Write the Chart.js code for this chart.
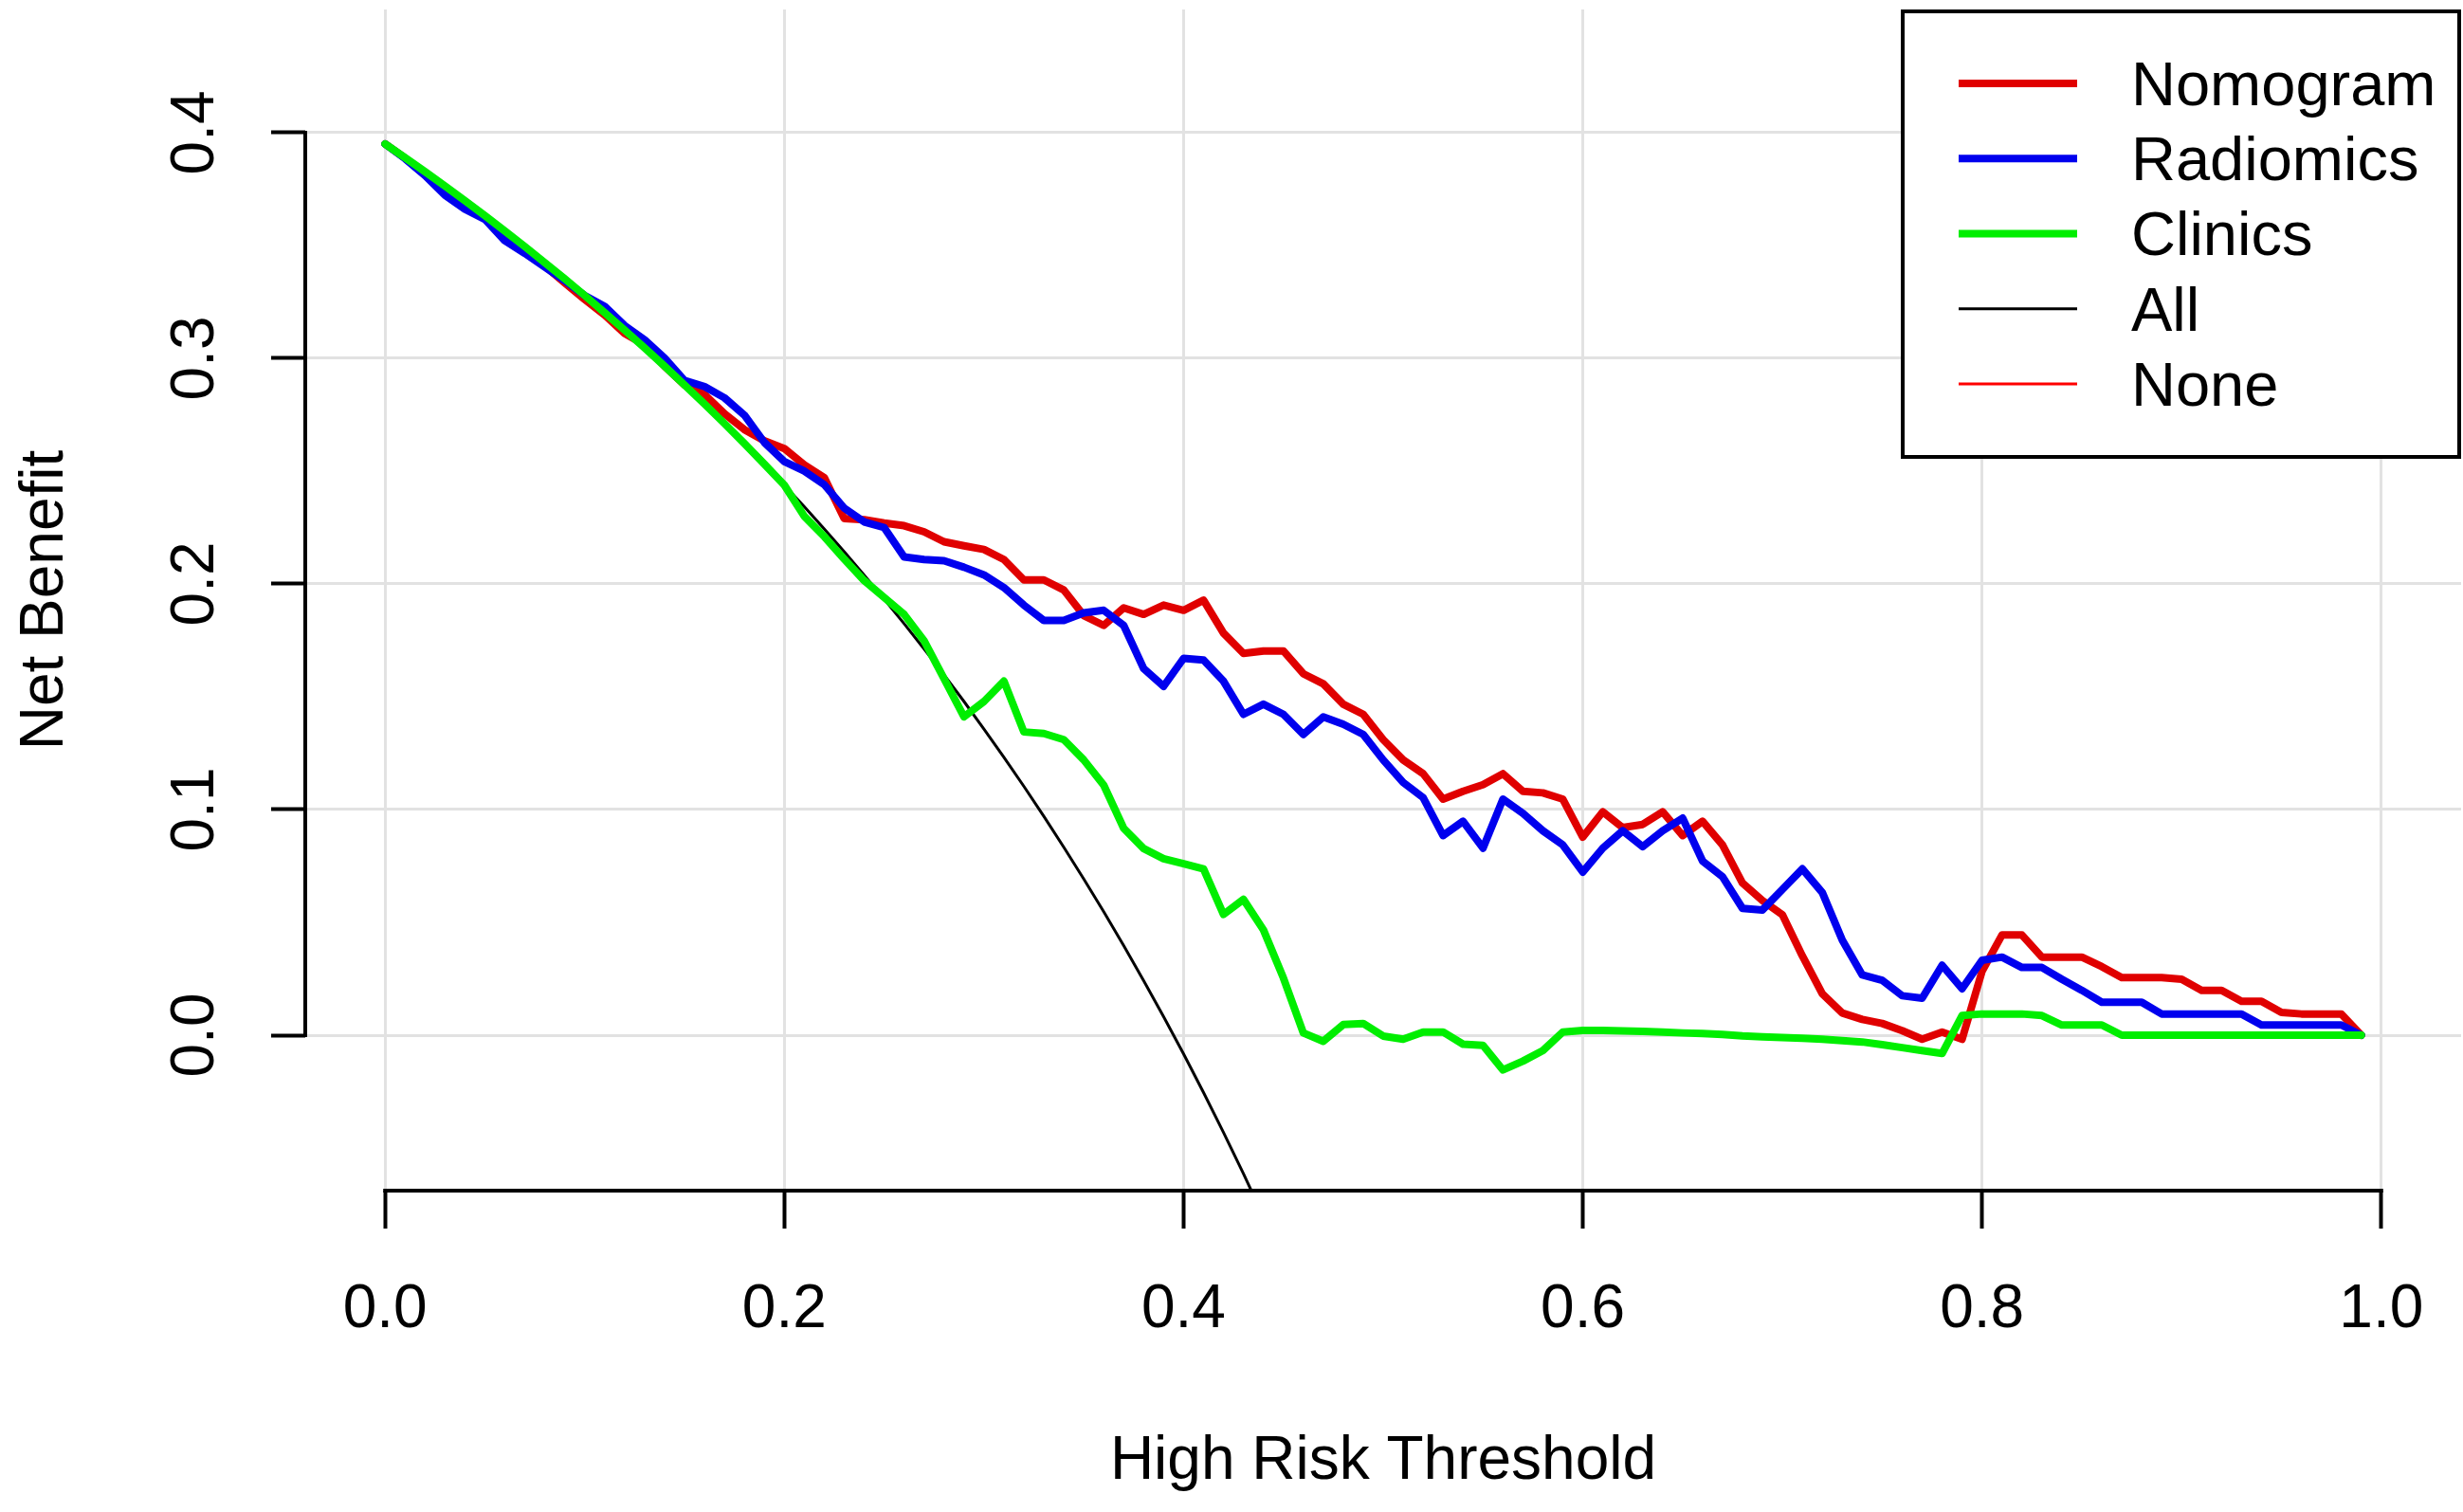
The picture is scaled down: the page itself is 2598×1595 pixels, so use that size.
<!DOCTYPE html>
<html>
<head>
<meta charset="utf-8">
<script src="https://cdn.jsdelivr.net/npm/chart.js@4.4.1/dist/chart.umd.min.js"></script>
<style>
html,body{margin:0;padding:0;background:#ffffff;}
canvas{display:block;}
</style>
</head>
<body>
<canvas id="c" width="2598" height="1595" style="width:2598px;height:1595px"></canvas>
<script>
// ---------------- DATA ----------------
const thresholds = [
0.00,0.01,0.02,0.03,0.04,0.05,0.06,0.07,0.08,0.09,
0.10,0.11,0.12,0.13,0.14,0.15,0.16,0.17,0.18,0.19,
0.20,0.21,0.22,0.23,0.24,0.25,0.26,0.27,0.28,0.29,
0.30,0.31,0.32,0.33,0.34,0.35,0.36,0.37,0.38,0.39,
0.40,0.41,0.42,0.43,0.44,0.45,0.46,0.47,0.48,0.49,
0.50,0.51,0.52,0.53,0.54,0.55,0.56,0.57,0.58,0.59,
0.60,0.61,0.62,0.63,0.64,0.65,0.66,0.67,0.68,0.69,
0.70,0.71,0.72,0.73,0.74,0.75,0.76,0.77,0.78,0.79,
0.80,0.81,0.82,0.83,0.84,0.85,0.86,0.87,0.88,0.89,
0.90,0.91,0.92,0.93,0.94,0.95,0.96,0.97,0.98,0.99];

const nomogram = [
0.3950,0.3887,0.3815,0.3739,0.3675,0.3620,0.3542,0.3481,0.3410,0.3334,
0.3261,0.3192,0.3110,0.3060,0.2965,0.2882,0.2840,0.2755,0.2684,0.2634,
0.2600,0.2528,0.2471,0.2290,0.2285,0.2270,0.2258,0.2231,0.2187,0.2169,
0.2153,0.2108,0.2018,0.2018,0.1973,0.1860,0.1816,0.1894,0.1865,0.1906,
0.1883,0.1928,0.1782,0.1692,0.1703,0.1703,0.1602,0.1557,0.1467,0.1422,
0.1310,0.1220,0.1159,0.1046,0.1081,0.1110,0.1159,0.1081,0.1074,0.1046,
0.0878,0.0990,0.0920,0.0934,0.0990,0.0885,0.0948,0.0843,0.0674,0.0597,
0.0534,0.0351,0.0183,0.0098,0.0070,0.0052,0.0020,-0.0018,0.0014,-0.0018,
0.0283,0.0444,0.0444,0.0346,0.0346,0.0346,0.0304,0.0255,0.0255,0.0255,
0.0248,0.0199,0.0199,0.0150,0.0150,0.0101,0.0094,0.0094,0.0094,0.0000];

const radiomics = [
0.3950,0.3885,0.3810,0.3723,0.3661,0.3616,0.3521,0.3465,0.3404,0.3344,
0.3278,0.3230,0.3145,0.3082,0.3001,0.2902,0.2875,0.2825,0.2748,0.2627,
0.2542,0.2500,0.2440,0.2336,0.2275,0.2250,0.2120,0.2108,0.2103,0.2074,
0.2040,0.1984,0.1906,0.1838,0.1838,0.1872,0.1883,0.1816,0.1625,0.1546,
0.1670,0.1663,0.1569,0.1422,0.1467,0.1422,0.1333,0.1411,0.1378,0.1333,
0.1220,0.1120,0.1053,0.0885,0.0948,0.0829,0.1046,0.0983,0.0906,0.0843,
0.0723,0.0829,0.0906,0.0836,0.0906,0.0962,0.0772,0.0702,0.0562,0.0555,
0.0646,0.0737,0.0632,0.0421,0.0267,0.0243,0.0175,0.0164,0.0310,0.0206,
0.0332,0.0346,0.0300,0.0300,0.0248,0.0199,0.0146,0.0146,0.0146,0.0094,
0.0094,0.0094,0.0094,0.0094,0.0045,0.0045,0.0045,0.0045,0.0045,0.0000];

const clinics = [
0.3950,0.3889,0.3827,0.3763,0.3698,0.3632,0.3564,0.3495,0.3424,0.3352,
0.3278,0.3202,0.3125,0.3046,0.2965,0.2882,0.2798,0.2711,0.2622,0.2531,
0.2438,0.2300,0.2210,0.2110,0.2015,0.1940,0.1865,0.1748,0.1580,0.1411,
0.1479,0.1569,0.1344,0.1337,0.1310,0.1220,0.1108,0.0917,0.0827,0.0782,
0.0760,0.0737,0.0535,0.0602,0.0467,0.0254,0.0010,-0.0027,0.0047,0.0052,
-0.0004,-0.0018,0.0014,0.0014,-0.0040,-0.0045,-0.0154,-0.0115,-0.0068,0.0014,
0.0021,0.0021,0.0019,0.0017,0.0014,0.0010,0.0007,0.0003,-0.0003,-0.0007,
-0.0010,-0.0014,-0.0018,-0.0024,-0.0030,-0.0042,-0.0055,-0.0068,-0.0081,0.0087,
0.0094,0.0094,0.0094,0.0087,0.0045,0.0045,0.0045,0.0000,0.0000,0.0000,
0.0000,0.0000,0.0000,0.0000,0.0000,0.0000,0.0000,0.0000,0.0000,0.0000];

// treat-all curve, read where it is visible (0.00 - 0.44)
const treatAll = [
0.3950,0.3889,0.3827,0.3763,0.3698,0.3632,0.3564,0.3495,0.3424,0.3352,
0.3278,0.3202,0.3125,0.3046,0.2965,0.2882,0.2798,0.2711,0.2622,0.2531,
0.2438,0.2342,0.2244,0.2143,0.2039,0.1933,0.1824,0.1712,0.1597,0.1479,
0.1357,0.1232,0.1103,0.0970,0.0833,0.0692,0.0547,0.0397,0.0242,0.0082,
-0.0083,-0.0254,-0.0431,-0.0614,-0.0804];

const seriesNames = ['Nomogram','Radiomics','Clinics','All','None'];
const xTicks = [0.0,0.2,0.4,0.6,0.8,1.0];
const xTickLabels = ['0.0','0.2','0.4','0.6','0.8','1.0'];
const yTicks = [0.0,0.1,0.2,0.3,0.4];
const yTickLabels = ['0.0','0.1','0.2','0.3','0.4'];
const xTitle = 'High Risk Threshold';
const yTitle = 'Net Benefit';

// ---------------- STYLE ----------------
const FONT = "'Liberation Sans', Arial, Helvetica, sans-serif";
const styles = {
  Nomogram: {color:'#e00000', width:8},
  Radiomics:{color:'#0000ee', width:8},
  Clinics:  {color:'#00ee00', width:8},
  All:      {color:'#000000', width:3},
  None:     {color:'#ff0000', width:3}
};

function pts(vals){ return vals.map((v,i)=>({x:thresholds[i], y:v})); }

const datasets = [
  {label:seriesNames[0], data:pts(nomogram), order:2},
  {label:seriesNames[1], data:pts(radiomics), order:1},
  {label:seriesNames[2], data:pts(clinics), order:0},
  {label:seriesNames[3], data:pts(treatAll), order:3}
].map(d => Object.assign(d, {
  borderColor: styles[d.label].color,
  borderWidth: styles[d.label].width,
  pointRadius: 0,
  tension: 0,
  fill: false,
  borderJoinStyle: 'round',
  borderCapStyle: 'round'
}));

// R-style axis lines spanning first..last tick
const axisLines = {
  id:'axisLines',
  afterDatasetsDraw(chart){
    const {ctx, chartArea} = chart;
    const xs = chart.scales.x, ys = chart.scales.y;
    ctx.save();
    ctx.strokeStyle = '#000';
    ctx.lineWidth = 4;
    ctx.lineCap = 'square';
    ctx.beginPath();
    ctx.moveTo(xs.getPixelForValue(xTicks[0]), chartArea.bottom);
    ctx.lineTo(xs.getPixelForValue(xTicks[xTicks.length-1]), chartArea.bottom);
    ctx.moveTo(chartArea.left, ys.getPixelForValue(yTicks[0]));
    ctx.lineTo(chartArea.left, ys.getPixelForValue(yTicks[yTicks.length-1]));
    ctx.stroke();
    ctx.restore();
  }
};

// R-style boxed legend in the top-right corner of the plot region
const boxLegend = {
  id:'boxLegend',
  afterDraw(chart){
    const {ctx, chartArea} = chart;
    const w = 587, h = 470;
    const right = chartArea.right - 2, top = chartArea.top + 2;
    const left = right - w;
    ctx.save();
    ctx.fillStyle = '#fff';
    ctx.fillRect(left, top, w, h);
    ctx.lineWidth = 4;
    ctx.strokeStyle = '#000';
    ctx.strokeRect(left, top, w, h);
    ctx.font = '65px ' + FONT;
    ctx.textBaseline = 'middle';
    ctx.textAlign = 'left';
    seriesNames.forEach((name, i) => {
      const y = top + 76 + i * 79.25;
      const st = styles[name];
      ctx.strokeStyle = st.color;
      ctx.lineWidth = st.width;
      ctx.lineCap = 'butt';
      ctx.beginPath();
      ctx.moveTo(left + 59, y);
      ctx.lineTo(left + 184, y);
      ctx.stroke();
      ctx.fillStyle = '#000';
      ctx.fillText(name, left + 241, y + 5);
    });
    ctx.restore();
  }
};

new Chart(document.getElementById('c'), {
  type:'line',
  data:{ datasets },
  plugins:[axisLines, boxLegend],
  options:{
    responsive:false,
    animation:false,
    devicePixelRatio:1,
    layout:{ padding:{ top:10, right:2, left:0, bottom:0 } },
    plugins:{ legend:{display:false}, tooltip:{enabled:false} },
    scales:{
      x:{
        type:'linear', min:-0.04, max:1.04,
        afterBuildTicks: s => { s.ticks = xTicks.map(v => ({value:v})); },
        afterFit: s => { s.height = 339; s.paddingLeft = 0; s.paddingRight = 0; },
        border:{display:false},
        grid:{ color:'#e2e2e2', lineWidth:3, drawTicks:true, tickLength:40, tickColor:'#000', tickWidth:4 },
        ticks:{ autoSkip:false, minRotation:0, maxRotation:0, padding:48, color:'#000',
                font:{family:FONT, size:64}, callback:(v,i)=>xTickLabels[i] },
        title:{ display:true, text:xTitle, color:'#000', font:{family:FONT, size:64},
                padding:{top:0, bottom:14} }
      },
      y:{
        type:'linear', min:-0.0689, max:0.4546,
        afterBuildTicks: s => { s.ticks = yTicks.map(v => ({value:v})); },
        afterFit: s => { s.width = 322; s.paddingTop = 0; s.paddingBottom = 0; },
        border:{display:false},
        grid:{ color:'#e2e2e2', lineWidth:3, drawTicks:true, tickLength:36, tickColor:'#000', tickWidth:4 },
        ticks:{ autoSkip:false, minRotation:90, maxRotation:90, crossAlign:'center', padding:34,
                color:'#000', font:{family:FONT, size:64}, callback:(v,i)=>yTickLabels[i] },
        title:{ display:true, text:yTitle, color:'#000', font:{family:FONT, size:64},
                padding:{top:10, bottom:0} }
      }
    }
  }
});
</script>
</body>
</html>
